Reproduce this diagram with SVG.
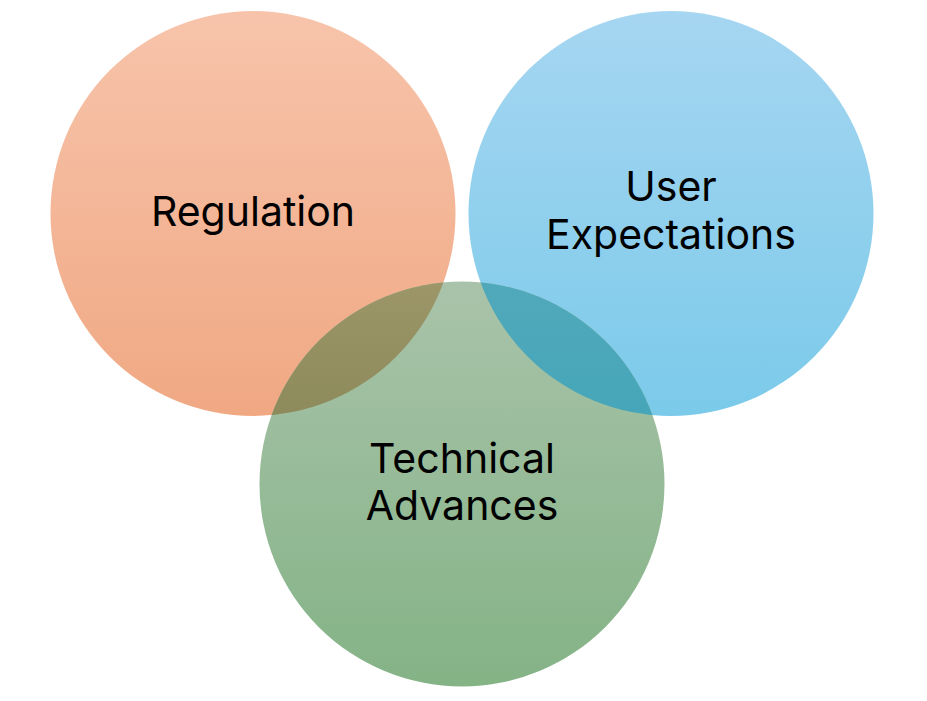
<svg xmlns="http://www.w3.org/2000/svg" width="927" height="701" viewBox="0 0 927 701">
<style>
.lbl{font-family:Inter,"Open Sans","Liberation Sans",sans-serif;font-size:41px;fill:#000;text-anchor:middle}
</style>
<defs>
<linearGradient id="gO" x1="0" y1="0" x2="0" y2="1"><stop offset="0" stop-color="#F7C4AB"/><stop offset="1" stop-color="#F0A883"/></linearGradient>
<linearGradient id="gB" x1="0" y1="0" x2="0" y2="1"><stop offset="0" stop-color="#A6D6F1"/><stop offset="1" stop-color="#7BCAEA"/></linearGradient>
<linearGradient id="gG" x1="0" y1="0" x2="0" y2="1"><stop offset="0" stop-color="#A9C3AA"/><stop offset="1" stop-color="#84B386"/></linearGradient>
<linearGradient id="gOG" gradientUnits="userSpaceOnUse" x1="0" y1="283" x2="0" y2="416"><stop offset="0" stop-color="#9C9669"/><stop offset="1" stop-color="#8D8A5B"/></linearGradient>
<linearGradient id="gBG" gradientUnits="userSpaceOnUse" x1="0" y1="283" x2="0" y2="416"><stop offset="0" stop-color="#50A9BA"/><stop offset="1" stop-color="#46A6B9"/></linearGradient>
<clipPath id="cG"><circle cx="462" cy="484" r="202.5"/></clipPath>
</defs>
<g id="regulation">
<circle cx="253" cy="213.5" r="202.5" fill="url(#gO)"/>
<text class="lbl" x="253" y="226">Regulation</text>
</g>
<g id="user-expectations">
<circle cx="671" cy="213.5" r="202.5" fill="url(#gB)"/>
<text class="lbl" x="671" y="201">User</text>
<text class="lbl" x="671" y="249">Expectations</text>
</g>
<g id="technical-advances">
<circle cx="462" cy="484" r="202.5" fill="url(#gG)"/>
<g clip-path="url(#cG)">
<circle cx="253" cy="213.5" r="202.5" fill="url(#gOG)"/>
<circle cx="671" cy="213.5" r="202.5" fill="url(#gBG)"/>
</g>
<text class="lbl" x="462" y="473">Technical</text>
<text class="lbl" x="462" y="520">Advances</text>
</g>
</svg>
